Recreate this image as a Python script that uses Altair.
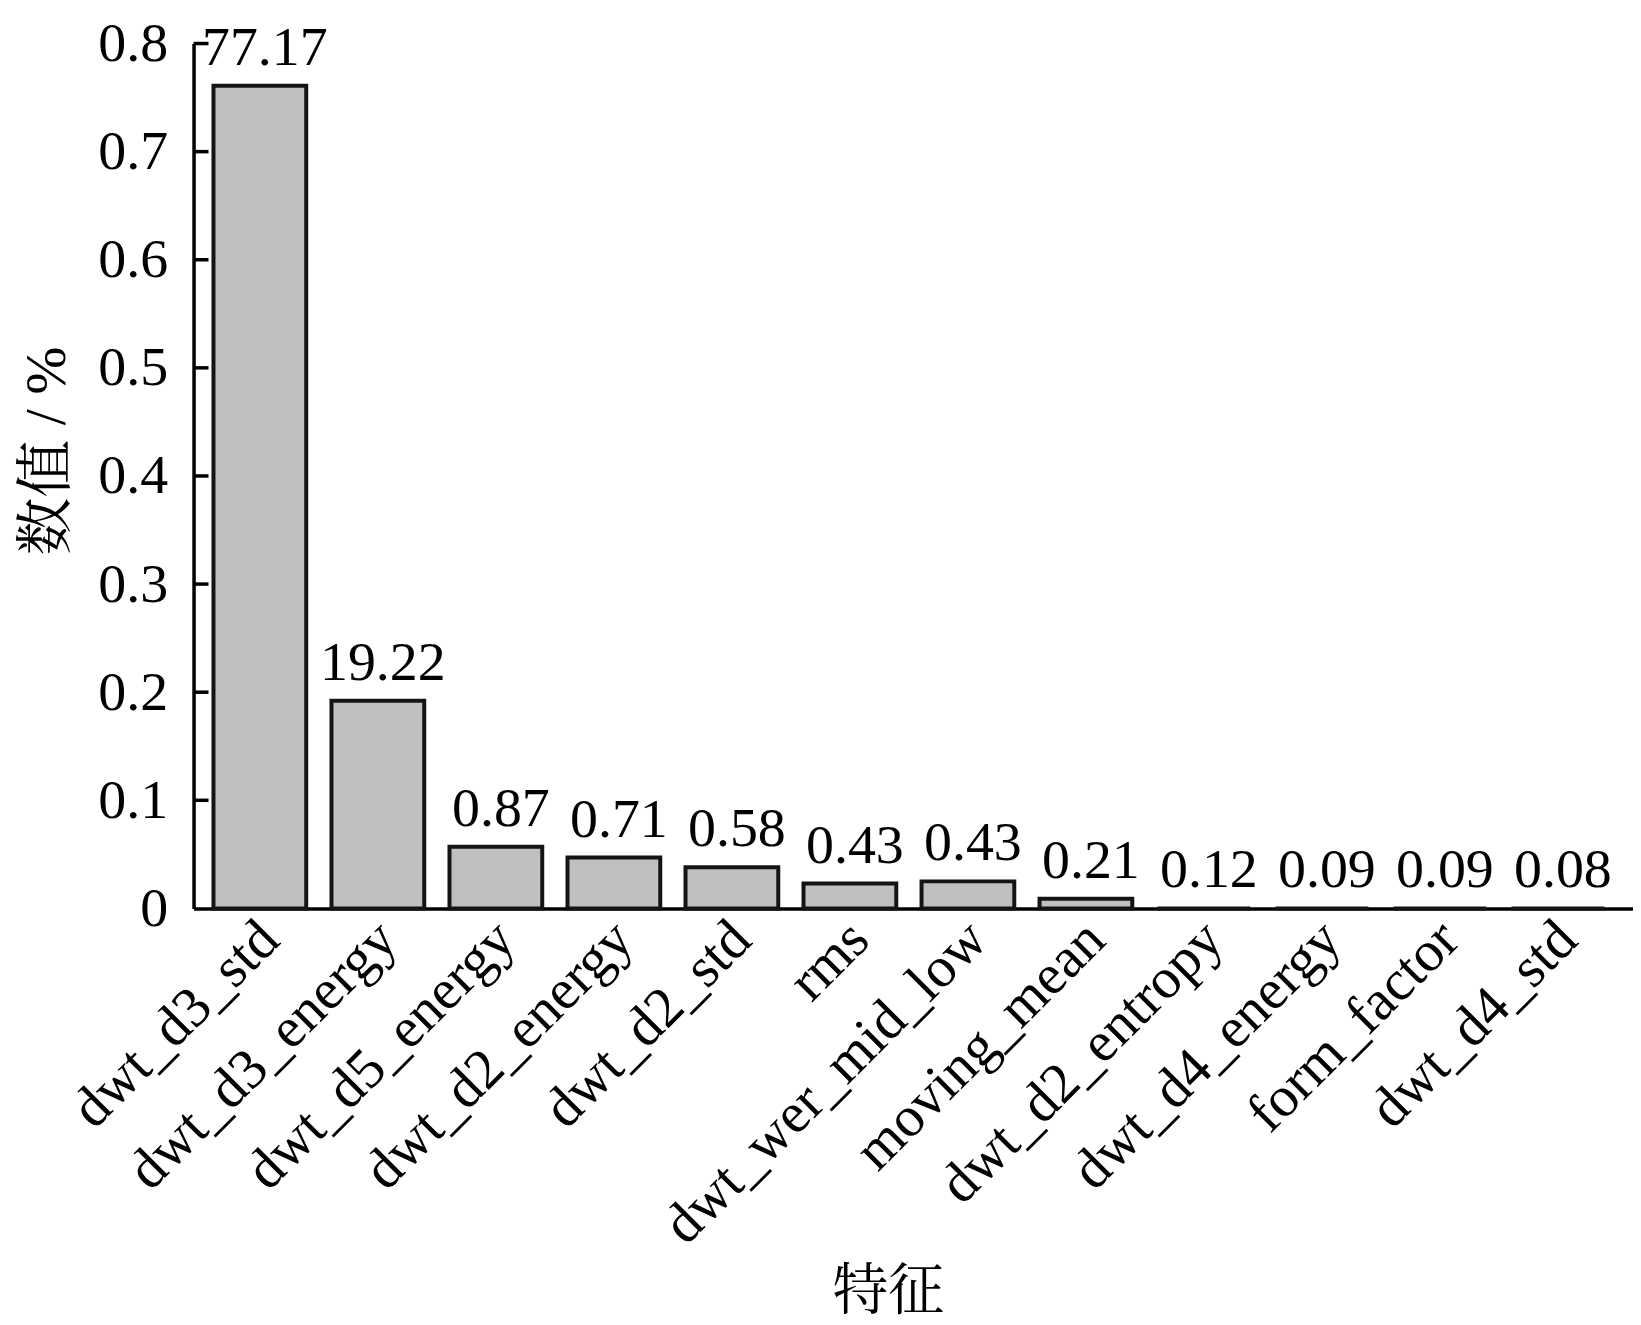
import altair as alt
import pandas as pd

features = ["dwt_d3_std", "dwt_d3_energy", "dwt_d5_energy", "dwt_d2_energy",
            "dwt_d2_std", "rms", "dwt_wer_mid_low", "moving_mean",
            "dwt_d2_entropy", "dwt_d4_energy", "form_factor", "dwt_d4_std"]
values = [0.761, 0.192, 0.057, 0.047, 0.038, 0.023, 0.025, 0.009, 0.0, 0.0, 0.0, 0.0]
labels = ["77.17", "19.22", "0.87", "0.71", "0.58", "0.43", "0.43", "0.21",
          "0.12", "0.09", "0.09", "0.08"]
y_ticks = [0.1, 0.2, 0.3, 0.4, 0.5, 0.6, 0.7, 0.8]

FONT = "Liberation Serif, Noto Serif CJK SC, Noto Sans CJK SC, serif"

df = pd.DataFrame({"feature": features, "value": values, "label": labels})
ticks_df = pd.DataFrame({"t": y_ticks})

x = alt.X("feature:N", sort=features,
          scale=alt.Scale(paddingInner=0.214, paddingOuter=0.206, align=0.41),
          axis=alt.Axis(title="特征", labelAngle=-45, labelAlign="right",
                        labelBaseline="alphabetic", labelOffset=22, labelPadding=34,
                        ticks=False, tickSize=0, domainWidth=3.5, domainColor="#000000",
                        labelFont=FONT, labelFontSize=57, labelColor="#000000",
                        labelOverlap=False, labelBound=False, labelFlush=False,
                        labelLimit=0,
                        titleFont=FONT, titleFontSize=56, titleFontWeight="normal",
                        titleColor="#000000", titleX=696, titleY=384,
                        titleAlign="center", titleBaseline="middle"))
y = alt.Y("value:Q",
          scale=alt.Scale(domain=[0, 0.8], nice=False, zero=True),
          axis=alt.Axis(title="数值 / %", values=[0, 0.1, 0.2, 0.3, 0.4, 0.5, 0.6, 0.7, 0.8],
                        format="~g", ticks=False, tickSize=0, labelPadding=26,
                        domainWidth=3.5, domainColor="#000000", grid=False,
                        labelFont=FONT, labelFontSize=56, labelColor="#000000",
                        labelBaseline="middle", labelBound=False, labelFlush=False,
                        titleFont=FONT, titleFontSize=58, titleFontWeight="normal",
                        titleColor="#000000", titleX=-146, titleY=408, titleAngle=-90,
                        titleAlign="center", titleBaseline="middle"))

bars = alt.Chart(df).mark_bar(color="#c0c0c0", stroke="#141414", strokeWidth=4).encode(
    x=x, y=y)

text = alt.Chart(df).mark_text(font=FONT, fontSize=56, color="#000000",
                               baseline="alphabetic", align="center", dx=5, dy=-21).encode(
    x=alt.X("feature:N", sort=features),
    y=alt.Y("value:Q"),
    text="label:N")

tick_rules = alt.Chart(ticks_df).mark_rule(color="#000000", strokeWidth=3.5).encode(
    y=alt.Y("t:Q"),
    x=alt.value(0), x2=alt.value(15))

chart = alt.layer(bars, text, tick_rules).properties(
    width=1443, height=867,
    autosize=alt.AutoSizeParams(type="none"),
    padding={"left": 186, "top": 34, "right": 0, "bottom": 414},
    background="#ffffff",
).configure_view(stroke=None)

chart.save("out.html", embed_options={"renderer": "svg", "actions": False})
